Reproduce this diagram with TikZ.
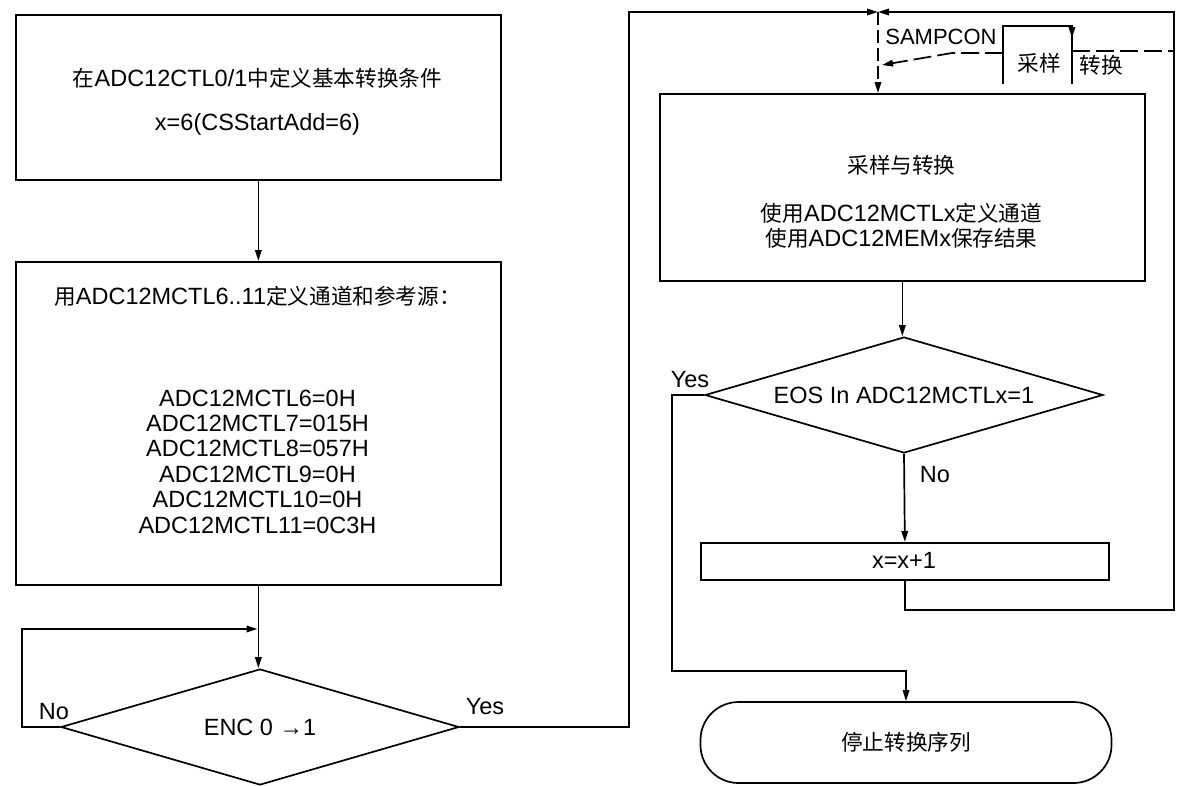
\documentclass[tikz,border=0pt]{standalone}
\usepackage{fontspec}
\setmainfont{Liberation Sans}
\newfontfamily\cjk{Noto Sans CJK SC}[Scale=0.92]
\newcommand{\zh}[1]{{\cjk #1}}
\usetikzlibrary{shapes.geometric,arrows.meta}
\begin{document}
\begin{tikzpicture}[x=1pt,y=-1pt,line width=1.7pt,
  every node/.style={font=\fontsize{23.5}{25.4}\selectfont},
  box/.style={draw,rectangle,inner sep=0pt,anchor=north west},
  dia/.style={draw,diamond,aspect=3.4,inner sep=0pt,minimum width=398pt,minimum height=116pt},
  term/.style={draw,rectangle,rounded corners=38pt,inner sep=0pt,minimum width=411pt,minimum height=81pt},
  txt/.style={inner sep=0pt,align=center},
  arr/.style={-{Triangle[length=11pt,width=6.5pt]}},
  dsh/.style={dash pattern=on 13pt off 5pt},
  dsl/.style={dash pattern=on 18pt off 6pt}]
\useasboundingbox (0,0) rectangle (1177,785);

% left column
\node[box,minimum width=485pt,minimum height=165pt] (b1) at (15,14) {};
\node[txt] (t1a) at (257.5,78) {\zh{在}ADC12CTL0/1\zh{中定义基本转换条件}};
\node[txt] (t1b) at (257.5,124) {x=6(CSStartAdd=6)};

\node[box,minimum width=485pt,minimum height=323pt] (b2) at (15,261) {};
\node[txt] (t2a) at (257.5,296) {\zh{用}ADC12MCTL6..11\zh{定义通道和参考源：}};
\node[txt] (t2b) at (257.5,461.5) {ADC12MCTL6=0H\\ADC12MCTL7=015H\\ADC12MCTL8=057H\\ADC12MCTL9=0H\\ADC12MCTL10=0H\\ADC12MCTL11=0C3H};

\node[dia] (enc) at (260,727) {ENC 0 →1};
\node[txt] (noL) at (54,712) {No};
\node[txt] (yesL) at (485,707) {Yes};

\coordinate (j1) at (257.5,629);
\coordinate (lp) at (22,629);
\coordinate (tl) at (629,12);
\coordinate (tj) at (878,12);

\draw[arr] (b1.south) -- (b2.north);
\draw[arr] (b2.south) -- (b2.south |- enc.north);
\draw[arr] (enc.west) -| (lp) -- (j1);
\draw[arr] (enc.east) -| (tl) -- (tj);

% right column
\node[box,minimum width=485pt,minimum height=187pt] (b3) at (659,93) {};
\node[txt] (t3a) at (901.5,165) {\zh{采样与转换}};
\node[txt] (t3b) at (901.5,225.5) {\zh{使用}ADC12MCTLx\zh{定义通道}\\\zh{使用}ADC12MEMx\zh{保存结果}};

\node[dia] (d2) at (904,395) {EOS In ADC12MCTLx=1};
\node[txt] (yesR) at (690,380) {Yes};
\node[txt] (noR) at (935,475) {No};

\node[box,minimum width=408pt,minimum height=37pt] (b4) at (700,542) {};
\node[txt] (t4) at (904,560.5) {x=x+1};

\node[term] (st) at (906,742.5) {\zh{停止转换序列}};

\coordinate (yb) at (672,671);
\coordinate (rb) at (1174,610);
\coordinate (rt) at (1174,12);

\draw[arr] (b3.south) -- (b3.south |- d2.north);
\draw[arr] (d2.south) -- (b4.north);
\draw[arr] (d2.west) -| (yb) -| (st.north);
\draw[arr] (b4.south) |- (rb) -- (rt) -- (tj);
\draw[arr,dsh] (tj) -- (tj |- b3.north);

% SAMPCON waveform
\node[txt,font=\fontsize{22}{25}\selectfont] (sc) at (941,37) {SAMPCON};
\coordinate (p1) at (1003,84);
\coordinate (p2) at (1003,26);
\coordinate (p3) at (1072,26);
\coordinate (p4) at (1072,84);
\draw (p1) -- (p2) -- (p3) -- (p4);
\draw[arr] (p3) -- (1072,38);
\coordinate (lo) at (1003,53);
\coordinate (lm) at (952,53);
\coordinate (la) at (882,65);
\draw[arr,dsl] (lo) -- (lm) -- (la);
\coordinate (cv) at (1072,51);
\draw[dsl] (cv) -- (rb |- cv);
\node[txt] (sp) at (1039,63) {\zh{采样}};
\node[txt] (cvt) at (1101,65) {\zh{转换}};
\end{tikzpicture}
\end{document}
